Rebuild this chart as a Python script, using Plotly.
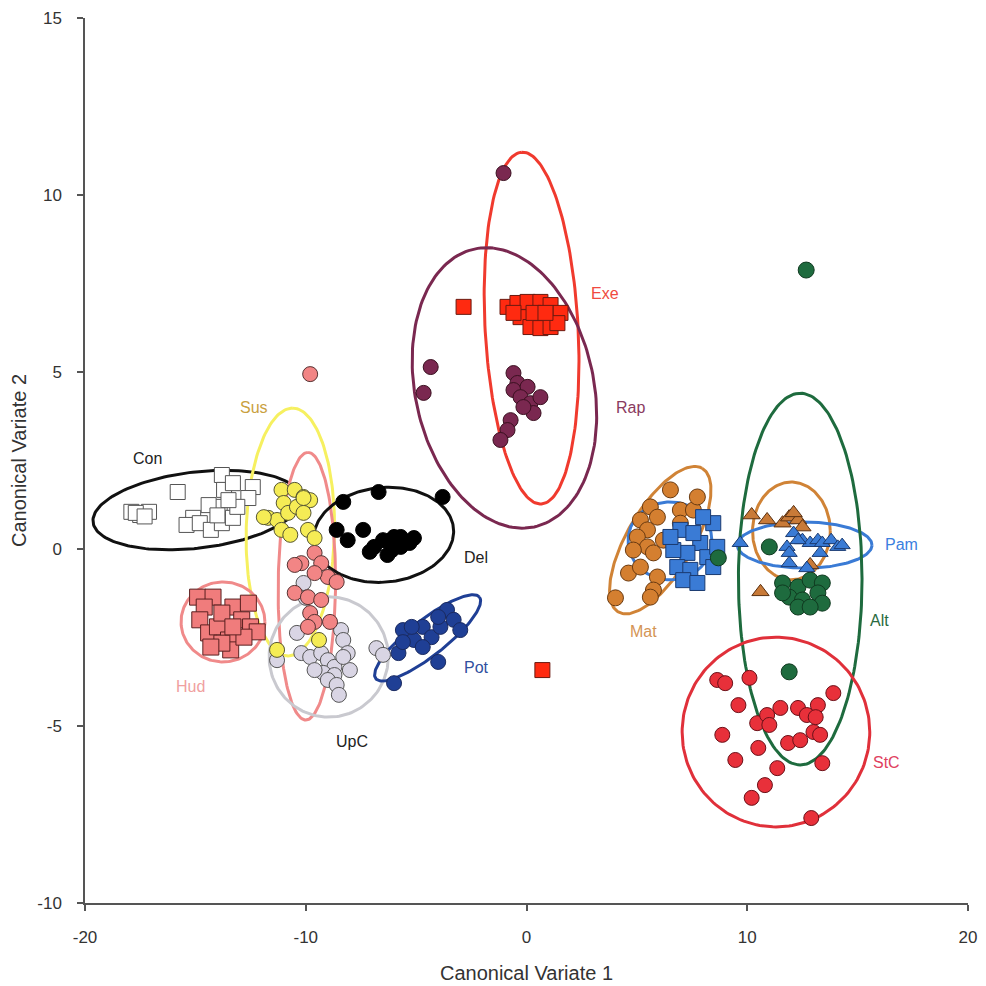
import numpy as np
import plotly.graph_objects as go

# ---------------- data ----------------
con_x = [-17.9, -17.5, -17.1, -17.7, -15.8, -13.8, -13.7, -13.3, -12.4, -12.6, -13.9, -14.4, -15.1, -15.4, -14.8, -14.3, -13.8, -13.3, -13.1, -13.5, -17.3, -14.0]
con_y = [1.05, 0.96, 1.05, 1.02, 1.61, 2.09, 1.67, 1.86, 1.75, 1.44, 1.19, 1.24, 0.88, 0.68, 0.73, 0.54, 0.73, 0.88, 1.19, 1.38, 0.92, 0.95]

sus_x = [-11.1, -10.5, -10.1, -9.8, -11.0, -11.7, -11.3, -10.8, -10.4, -10.1, -11.1, -10.7, -9.9, -9.6, -11.3, -9.4, -10.1, -11.9]
sus_y = [1.67, 1.67, 1.47, 1.38, 1.30, 0.88, 0.82, 1.02, 1.19, 1.02, 0.54, 0.40, 0.54, 0.31, -2.85, -2.57, 1.44, 0.90]

pnk_x = [-9.8, -10.2, -9.6, -9.3, -9.0, -8.6, -10.5, -9.9, -9.3, -9.8, -9.6, -9.9, -8.9, -9.6, -10.5]
pnk_y = [4.94, -0.40, -0.11, -0.40, -0.79, -0.93, -1.24, -1.36, -1.44, -1.81, -2.06, -2.20, -2.06, -0.68, -0.45]

hud_x = [-14.9, -14.2, -14.6, -14.8, -14.4, -14.0, -13.5, -13.4, -13.8, -13.3, -12.6, -12.9, -12.5, -12.2, -12.8, -13.8, -13.3, -14.3]
hud_y = [-1.36, -1.36, -1.64, -2.0, -2.37, -2.20, -2.57, -2.85, -2.66, -1.64, -1.53, -2.0, -2.20, -2.34, -2.49, -1.81, -2.20, -2.77]

upc_x = [-10.1, -10.0, -10.4, -11.3, -10.2, -9.8, -9.3, -9.0, -8.7, -8.4, -8.3, -8.1, -8.0, -9.2, -8.7, -9.0, -8.6, -8.5, -9.6, -6.8, -6.5, -8.3]
upc_y = [-0.96, -1.38, -2.37, -3.14, -2.94, -3.05, -2.94, -3.14, -3.33, -2.29, -2.57, -2.94, -3.42, -3.50, -3.56, -3.70, -3.84, -4.12, -3.42, -2.80, -2.99, -3.05]

del_x = [-6.7, -3.8, -8.3, -8.6, -8.1, -7.4, -6.9, -6.5, -6.0, -5.7, -5.1, -6.3, -7.1, -5.7, -5.3, -6.1]
del_y = [1.61, 1.47, 1.33, 0.54, 0.25, 0.54, 0.06, 0.25, 0.34, 0.06, 0.31, -0.17, -0.08, 0.34, 0.17, -0.03]

pot_x = [-6.0, -4.0, -5.8, -5.6, -5.1, -4.7, -4.3, -3.9, -3.6, -3.3, -3.0, -5.2, -4.7, -4.0, -5.6]
pot_y = [-3.79, -3.19, -2.94, -2.29, -2.57, -2.20, -2.49, -2.20, -1.72, -2.0, -2.29, -2.20, -2.77, -1.92, -2.63]

exe_x = [-2.85, -0.86, -0.41, 0.05, 0.63, 1.09, 1.54, -0.27, 0.18, 0.63, 1.09, 1.40, -0.59, 0.32, 0.86, 0.72]
exe_y = [6.84, 6.84, 6.95, 6.98, 6.98, 6.89, 6.67, 6.55, 6.27, 6.24, 6.27, 6.38, 6.67, 6.67, 6.67, -3.42]

rap_x = [-1.04, -4.34, -4.66, -0.59, -0.41, -0.59, 0.05, -0.27, 0.18, 0.63, 0.32, -0.72, -0.86, -1.18, -0.14]
rap_y = [10.62, 5.14, 4.41, 4.97, 4.69, 4.49, 4.58, 4.29, 4.12, 4.29, 3.84, 3.64, 3.36, 3.08, 4.01]

mat_x = [6.52, 4.03, 4.62, 5.61, 5.93, 5.16, 5.48, 5.02, 5.48, 5.75, 5.16, 5.93, 5.75, 5.61, 6.97, 7.56, 6.2, 4.84, 6.97, 7.74]
mat_y = [1.67, -1.38, -0.68, 1.19, 0.90, 0.82, 0.54, 0.34, 0.06, -0.11, -0.51, -0.79, -1.16, -1.36, 1.10, 1.10, 0.25, -0.03, 0.73, 1.47]

bsq_x = [8.46, 8.0, 6.97, 7.87, 7.29, 6.65, 6.83, 7.42, 7.10, 7.74, 8.19, 8.64, 6.52, 8.46, 7.56]
bsq_y = [0.73, 0.90, 0.54, 0.17, -0.11, -0.03, -0.51, -0.59, -0.88, -0.96, -0.23, 0.06, 0.34, -0.51, 0.45]

otr_x = [10.2, 10.9, 11.6, 11.9, 12.3, 12.5, 10.6, 12.85, 12.1]
otr_y = [0.96, 0.82, 0.73, 0.90, 0.82, 0.62, -1.21, -0.45, 1.02]

pam_x = [9.68, 11.8, 12.1, 12.5, 12.85, 13.2, 13.4, 13.8, 14.1, 14.3, 11.9, 13.3, 11.9, 12.7, 12.3]
pam_y = [0.17, 0.06, 0.45, 0.25, 0.17, 0.25, 0.17, 0.25, 0.06, 0.11, -0.11, -0.11, -0.40, -0.54, 0.25]

alt_x = [11.0, 11.6, 12.3, 12.85, 13.4, 11.9, 12.5, 13.2, 13.4, 12.3, 12.85, 11.6, 12.67, 11.9, 8.69]
alt_y = [0.06, -0.96, -1.07, -0.88, -0.96, -1.36, -1.44, -1.24, -1.53, -1.64, -1.64, -1.24, 7.88, -3.47, -0.25]

stc_x = [8.64, 9.0, 10.1, 13.9, 9.6, 10.45, 10.9, 11.0, 11.5, 12.3, 12.7, 13.2, 13.1, 13.0, 13.3, 11.85, 12.4, 8.87, 10.5, 9.46, 13.4, 11.36, 10.8, 10.2, 12.9]
stc_y = [-3.70, -3.79, -3.64, -4.07, -4.41, -4.92, -4.69, -4.97, -4.49, -4.49, -4.69, -4.41, -4.75, -5.17, -5.25, -5.48, -5.40, -5.25, -5.62, -5.96, -6.05, -6.19, -6.67, -7.03, -7.60]

# ellipses: name, center x, center y, semi-axis a (x,y), semi-axis b (x,y), colour
ell_names = ["Con", "Sus", "Pink", "Hud", "UpC", "Del", "Pot", "Exe", "Rap", "Mat", "BlueSq", "OrTri", "Pam", "Alt", "StC"]
ell_cx = [-14.93, -10.7, -9.95, -13.75, -8.96, -6.47, -4.48, 0.23, -1.0, 6.06, 6.5, 12.0, 12.6, 12.4, 11.3]
ell_cy = [1.1, 0.48, -1.05, -2.06, -3.05, 0.40, -2.51, 6.24, 4.55, 0.25, 0.23, 0.51, 0.11, -0.85, -5.17]
ell_ax = [4.7, 0.1, 0.05, 1.9, 2.7, 3.17, 2.35, -0.45, -0.5, 1.9, 1.9, 1.76, 3.05, 2.8, 4.25]
ell_ay = [0.23, 3.5, 3.78, 0.0, 0.0, 0.1, 1.15, 4.97, 3.95, 2.03, 0.0, 0.0, 0.0, 0.0, 0.0]
ell_bx = [0.3, 2.0, 1.3, 0.0, 0.0, 0.0, -0.5, 2.1, 4.15, 1.29, 0.0, 0.0, 0.0, 0.0, 0.0]
ell_by = [1.1, 0.0, 0.0, 1.13, 1.7, 1.34, 0.4, 0.1, -0.3, -0.47, 1.1, 1.38, 0.65, 5.25, 2.68]
ell_col = ["#111111", "#f6f060", "#f08a8a", "#f08a8a", "#c9c9cf", "#111111", "#1f3f95", "#f03a2e", "#7a2850",
           "#d08336", "#3a7bd5", "#d08336", "#3a7bd5", "#1e6b3e", "#e0303a"]

lab_text = ["Con", "Sus", "Del", "Hud", "UpC", "Pot", "Exe", "Rap", "Mat", "Pam", "Alt", "StC"]
lab_x = [-17.15, -12.35, -2.31, -15.2, -7.92, -2.26, 3.57, 4.71, 5.29, 17.0, 16.0, 16.3]
lab_y = [2.57, 4.01, -0.23, -3.87, -5.45, -3.36, 7.23, 4.01, -2.34, 0.14, -2.03, -6.02]
lab_col = ["#222222", "#c9a040", "#222222", "#f0a0a0", "#222222", "#3050a0", "#f04a40", "#8a3a60",
           "#d49454", "#3a80e0", "#2a6a40", "#e04060"]

x_ticks = [-20, -10, 0, 10, 20]
x_tick_text = ["-20", "-10", "0", "10", "20"]
y_ticks = [-10, -5, 0, 5, 10, 15]
y_tick_text = ["-10", "-5", "0", "5", "10", "15"]

# ---------------- figure ----------------
fig = go.Figure()

th = np.linspace(0, 2 * np.pi, 181)
for i in range(len(ell_names)):
    ex = ell_cx[i] + ell_ax[i] * np.cos(th) + ell_bx[i] * np.sin(th)
    ey = ell_cy[i] + ell_ay[i] * np.cos(th) + ell_by[i] * np.sin(th)
    fig.add_trace(go.Scatter(x=ex, y=ey, mode="lines",
                             line=dict(color=ell_col[i], width=3), hoverinfo="skip"))

def pts(x, y, fill, symbol="circle", size=15, outline="#333333"):
    fig.add_trace(go.Scatter(x=x, y=y, mode="markers",
                             marker=dict(symbol=symbol, size=size, color=fill,
                                         line=dict(color=outline, width=1))))

pts(con_x, con_y, "#ffffff", "square", 15, "#555555")
pts(hud_x, hud_y, "#f07c7c", "square", 16, "#5a2020")
pts(upc_x, upc_y, "#d9d5e4", "circle", 15, "#555555")
pts(pnk_x, pnk_y, "#f28585", "circle", 15, "#553333")
pts(sus_x, sus_y, "#f5ec55", "circle", 15, "#555533")
pts(del_x, del_y, "#000000", "circle", 15, "#000000")
pts(pot_x, pot_y, "#1f3f95", "circle", 15, "#1a2a60")
pts(rap_x, rap_y, "#7a2850", "circle", 15, "#3a1020")
pts(exe_x, exe_y, "#ff2a10", "square", 15, "#6a1a10")
pts(mat_x, mat_y, "#d47f30", "circle", 16, "#6a3a10")
pts(bsq_x, bsq_y, "#3a7bd5", "square", 15, "#1a3a70")
pts(alt_x, alt_y, "#1e6b3e", "circle", 16, "#103a20")
pts(otr_x, otr_y, "#c87a38", "triangle-up", 15, "#5a3010")
pts(pam_x, pam_y, "#3a7bd5", "triangle-up", 14, "#1a3a70")
pts(stc_x, stc_y, "#e8303a", "circle", 15, "#6a1018")

for t, x, y, c in zip(lab_text, lab_x, lab_y, lab_col):
    fig.add_annotation(x=x, y=y, text=t, showarrow=False,
                       font=dict(family="Liberation Sans, Arial", size=16, color=c))

axis_common = dict(showgrid=False, zeroline=False, showline=True, linecolor="#555555", linewidth=1.5,
                   ticks="outside", ticklen=6, tickcolor="#555555", tickwidth=1.5,
                   automargin=False,
                   tickfont=dict(family="Liberation Sans, Arial", size=17, color="#333333"),
                   title_font=dict(family="Liberation Sans, Arial", size=20, color="#333333"))

fig.update_xaxes(range=[-20, 20], tickvals=x_ticks, ticktext=x_tick_text,
                 title_text="Canonical Variate 1", title_standoff=20,
                 ticklabelstandoff=12, **axis_common)
fig.update_yaxes(range=[-10, 15], tickvals=y_ticks, ticktext=y_tick_text,
                 title_text="Canonical Variate 2", title_standoff=8,
                 ticklabelstandoff=12, **axis_common)

fig.update_layout(width=986, height=986, showlegend=False,
                  plot_bgcolor="white", paper_bgcolor="white",
                  margin=dict(l=77, r=26, t=10, b=91))

fig.write_html("out.html")
